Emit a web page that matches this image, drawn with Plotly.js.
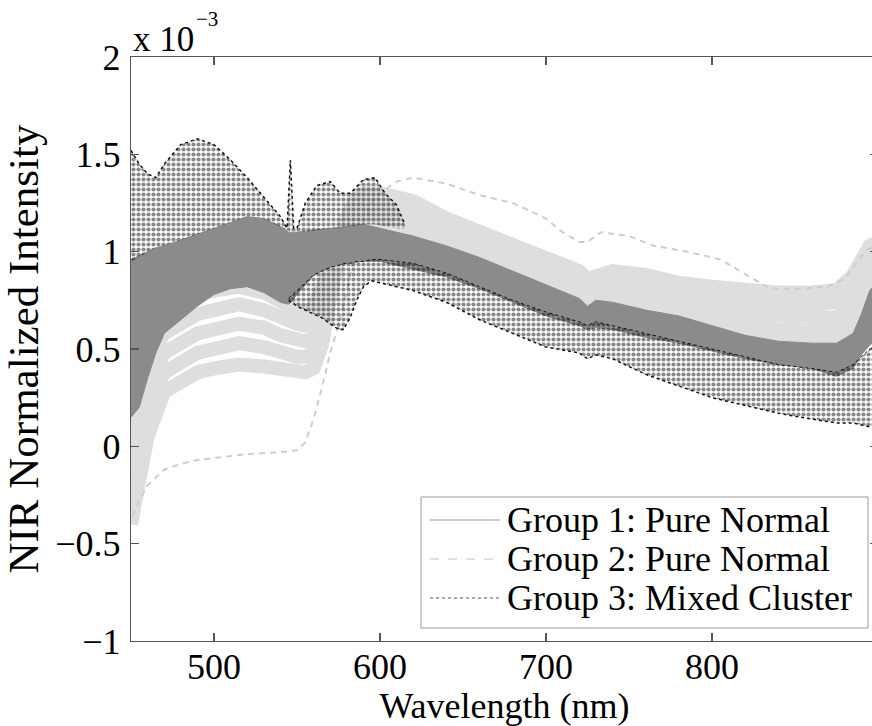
<!DOCTYPE html>
<html>
<head>
<meta charset="utf-8">
<script src="https://cdn.plot.ly/plotly-3.0.1.min.js"></script>
<style>
html,body{margin:0;padding:0;overflow:hidden;background:#fff;width:872px;height:726px;}
#chart{width:879px;height:726px;}
</style>
</head>
<body>
<div id="chart"></div>
<script>
// ---- Data (intensity in units of 1e-3) ----
// Group 1: Pure Normal (dense band, upper and lower envelope)
const wl1 = [450,455,460,465,470,480,490,500,510,520,530,540,545,550,560,570,580,590,600,620,640,660,680,700,720,725,730,740,760,780,800,820,840,860,875,885,890,895,900];
const g1Top = [0.96,0.98,1.00,1.02,1.03,1.06,1.09,1.12,1.15,1.18,1.17,1.13,1.10,1.10,1.11,1.12,1.13,1.14,1.12,1.08,1.03,0.97,0.90,0.83,0.76,0.72,0.75,0.74,0.70,0.67,0.62,0.57,0.54,0.53,0.53,0.58,0.68,0.80,0.85];
const g1Bot = [0.15,0.20,0.35,0.48,0.58,0.65,0.72,0.78,0.81,0.82,0.79,0.74,0.73,0.78,0.88,0.92,0.94,0.95,0.95,0.91,0.87,0.81,0.74,0.67,0.62,0.60,0.61,0.60,0.56,0.53,0.49,0.45,0.42,0.40,0.36,0.40,0.47,0.52,0.55];

// Group 2: Pure Normal (individual spectra)
const wl2 = [450,455,460,470,480,490,500,515,530,540,550,555,560,565,570,575,580,585,590,600,620,640,660,680,700,720,725,740,760,780,800,820,840,860,875,885,890,895,900];
const g2a = [0.30,0.45,0.58,0.70,0.75,0.78,0.80,0.82,0.79,0.74,0.70,0.68, 0.72,0.82,0.94,1.04,1.10,1.13,1.14,1.14, 1.10,1.04,0.97,0.89,0.82,0.75,0.71,0.72,0.69,0.65,0.61,0.57,0.55,0.54,0.54,0.58,0.66,0.75,0.80];
const g2b = [0.10,0.30,0.45,0.58,0.64,0.68,0.70,0.73,0.70,0.66,0.63,0.62, 0.64,0.76,0.92,1.05,1.13,1.17,1.18,1.18, 1.14,1.07,1.00,0.92,0.85,0.78,0.74,0.76,0.73,0.69,0.65,0.62,0.60,0.59,0.59,0.64,0.72,0.82,0.88];
const g2c = [-0.05,0.15,0.32,0.48,0.54,0.58,0.60,0.63,0.61,0.57,0.55,0.54, 0.56,0.68,0.88,1.04,1.15,1.20,1.22,1.22, 1.18,1.10,1.03,0.96,0.89,0.82,0.78,0.80,0.78,0.74,0.70,0.68,0.67,0.66,0.66,0.72,0.80,0.90,0.95];
const g2d = [-0.20,0.00,0.20,0.38,0.44,0.48,0.50,0.53,0.51,0.48,0.46,0.46, 0.48,0.60,0.82,1.02,1.16,1.23,1.26,1.26, 1.22,1.13,1.06,0.99,0.92,0.86,0.82,0.85,0.83,0.79,0.76,0.74,0.73,0.73,0.74,0.80,0.88,0.97,1.00];
const g2e = [-0.40,-0.15,0.05,0.28,0.34,0.38,0.40,0.42,0.41,0.40,0.38,0.38, 0.40,0.52,0.76,1.00,1.18,1.27,1.30,1.30, 1.26,1.17,1.10,1.03,0.96,0.90,0.86,0.90,0.88,0.84,0.82,0.80,0.79,0.79,0.80,0.88,0.95,1.03,1.05];
// Group 2 outlying spectrum (dashed)
const wl2x = [451,455,460,470,480,490,500,520,540,550,555,560,565,570,575,580,585,590,595,600,610,620,640,660,680,700,710,720,725,733,750,765,785,805,815,825,835,855,869,880,885,893,900];
const g2x = [-0.36,-0.28,-0.20,-0.12,-0.09,-0.07,-0.06,-0.04,-0.03,-0.02,0.02,0.14,0.30,0.48,0.62,0.80,1.00,1.15,1.25,1.30,1.36,1.38,1.35,1.29,1.25,1.17,1.10,1.05,1.05,1.10,1.08,1.03,1.00,0.96,0.91,0.86,0.81,0.81,0.82,0.86,0.92,1.01,1.03];

// Group 3: Mixed Cluster (upper cluster envelope)
const wl3a = [450,455,460,465,470,480,490,500,510,520,530,540,544,546,548,550,555,562,570,576,582,590,597,603,610,615];
const g3aTop = [1.52,1.45,1.40,1.38,1.45,1.55,1.58,1.55,1.47,1.38,1.28,1.18,1.12,1.47,1.12,1.12,1.25,1.34,1.36,1.30,1.30,1.37,1.38,1.30,1.24,1.14];
const g3aBot = [0.95,0.97,1.00,1.02,1.03,1.06,1.09,1.12,1.15,1.18,1.17,1.13,1.11,1.10,1.10,1.10,1.10,1.11,1.12,1.12,1.13,1.14,1.14,1.13,1.12,1.12];
// Group 3: lower cluster envelope
const wl3b = [545,550,555,560,565,570,575,578,582,586,590,595,600,620,640,660,680,700,720,725,730,740,760,780,800,820,840,860,875,885,895,900];
const g3bTop = [0.76,0.80,0.84,0.88,0.90,0.92,0.93,0.94,0.94,0.95,0.95,0.96,0.96,0.94,0.89,0.82,0.75,0.69,0.64,0.62,0.64,0.62,0.58,0.54,0.50,0.46,0.42,0.40,0.38,0.42,0.50,0.52];
const g3bBot = [0.75,0.72,0.70,0.68,0.66,0.63,0.60,0.60,0.66,0.75,0.82,0.85,0.84,0.80,0.74,0.65,0.58,0.51,0.48,0.45,0.47,0.45,0.37,0.31,0.25,0.21,0.17,0.14,0.12,0.12,0.10,0.10];

const yTickVals = [-1,-0.5,0,0.5,1,1.5,2];
const yTickText = ['\u22121','\u22120.5','0','0.5','1','1.5','2'];
const xTickVals = [500,600,700,800,900];
const legendNames = ['Group 1: Pure Normal','Group 2: Pure Normal','Group 3: Mixed Cluster'];

// ---- Styles ----
const C1 = '#8b8b8b', C2 = '#dedede', C2d = '#cdcdcd', C3 = '#111111';
const FONT = 'Liberation Serif, Times New Roman, serif';
const dotPattern = {shape: '.', fgcolor: C3, bgcolor: 'rgba(0,0,0,0)', size: 5, solidity: 0.55, fillmode: 'overlay'};

// plot area in px (for placing the hand-built legend)
const PL = 131, PW = 747, PT = 57, PH = 584;
const px2x = function(px){ return (px - PL) / PW; };
const py2y = function(py){ return (PT + PH - py) / PH; };

const traces = [];
[g2a, g2b, g2c, g2d, g2e].forEach(function(v){
  traces.push({x: wl2, y: v, mode: 'lines', line: {color: C2, width: 14}, showlegend: false, hoverinfo: 'skip'});
});
traces.push({x: wl2x, y: g2x, mode: 'lines', line: {color: C2d, width: 2, dash: '6px,5px'}, showlegend: false, hoverinfo: 'skip'});

traces.push({x: wl1, y: g1Bot, mode: 'lines', line: {color: C1, width: 1}, showlegend: false, hoverinfo: 'skip'});
traces.push({x: wl1, y: g1Top, mode: 'lines', line: {color: C1, width: 1}, fill: 'tonexty', fillcolor: C1, showlegend: false, hoverinfo: 'skip'});

traces.push({x: wl3a, y: g3aBot, mode: 'lines', line: {color: 'rgba(0,0,0,0)', width: 0}, showlegend: false, hoverinfo: 'skip'});
traces.push({x: wl3a, y: g3aTop, mode: 'lines', line: {color: C3, width: 1.5, dash: 'dot'}, fill: 'tonexty', fillcolor: 'rgba(0,0,0,0)', fillpattern: dotPattern, showlegend: false, hoverinfo: 'skip'});

traces.push({x: wl3b, y: g3bBot, mode: 'lines', line: {color: C3, width: 1.5, dash: 'dot'}, showlegend: false, hoverinfo: 'skip'});
traces.push({x: wl3b, y: g3bTop, mode: 'lines', line: {color: C3, width: 1, dash: 'dot'}, fill: 'tonexty', fillcolor: 'rgba(0,0,0,0)', fillpattern: dotPattern, showlegend: false, hoverinfo: 'skip'});

const axisCommon = {
  showline: true, linecolor: '#555', linewidth: 1.3, mirror: 'ticks',
  ticks: 'inside', ticklen: 8, tickwidth: 1.3, tickcolor: '#555',
  showgrid: false, zeroline: false,
  tickfont: {family: FONT, size: 36, color: '#000'}
};

// hand-built legend (box, sample lines, labels)
const legBox = {x0: 421, y0: 497, x1: 868, y1: 628};
const legRowsY = [520, 559, 598];
const legStyles = [
  {color: '#9a9a9a', width: 1.2, dash: 'solid'},
  {color: '#d8d8d8', width: 1.5, dash: 'dash'},
  {color: '#555555', width: 1.2, dash: 'dot'}
];
const shapes = [{
  type: 'rect', xref: 'paper', yref: 'paper', layer: 'above',
  x0: px2x(legBox.x0), x1: px2x(legBox.x1), y0: py2y(legBox.y1), y1: py2y(legBox.y0),
  line: {color: '#9a9a9a', width: 1}, fillcolor: '#fff'
}];
const annotations = [];
legendNames.forEach(function(name, i){
  shapes.push({type: 'line', xref: 'paper', yref: 'paper', layer: 'above',
    x0: px2x(430), x1: px2x(500), y0: py2y(legRowsY[i]), y1: py2y(legRowsY[i]),
    line: legStyles[i]});
  annotations.push({xref: 'paper', yref: 'paper', x: px2x(505), y: py2y(legRowsY[i]),
    xanchor: 'left', yanchor: 'middle', text: name, showarrow: false,
    font: {family: FONT, size: 36, color: '#000'}});
});
// axis exponent label
annotations.push({xref: 'paper', yref: 'paper', x: px2x(131), y: py2y(40), xanchor: 'left', yanchor: 'middle',
  text: 'x 10', showarrow: false, font: {family: FONT, size: 35, color: '#000'}});
annotations.push({xref: 'paper', yref: 'paper', x: px2x(194), y: py2y(19), xanchor: 'left', yanchor: 'middle',
  text: '\u22123', showarrow: false, font: {family: FONT, size: 21, color: '#000'}});

const layout = {
  width: 879, height: 726,
  margin: {l: PL, r: 879 - PL - PW, t: PT, b: 726 - PT - PH, pad: 0},
  paper_bgcolor: '#fff', plot_bgcolor: '#fff',
  font: {family: FONT, color: '#000'},
  xaxis: Object.assign({}, axisCommon, {
    range: [450, 900], tickvals: xTickVals, ticklabelstandoff: -7,
    title: {text: 'Wavelength (nm)', font: {family: FONT, size: 36, color: '#000'}, standoff: 8}
  }),
  yaxis: Object.assign({}, axisCommon, {
    range: [-1, 2], tickvals: yTickVals, ticktext: yTickText, ticklabelstandoff: 2,
    title: {text: 'NIR Normalized Intensity', font: {family: FONT, size: 43, color: '#000'}, standoff: 6}
  }),
  showlegend: false,
  shapes: shapes,
  annotations: annotations,
  hovermode: false
};

Plotly.newPlot('chart', traces, layout, {staticPlot: true, displayModeBar: false});
</script>
</body>
</html>
